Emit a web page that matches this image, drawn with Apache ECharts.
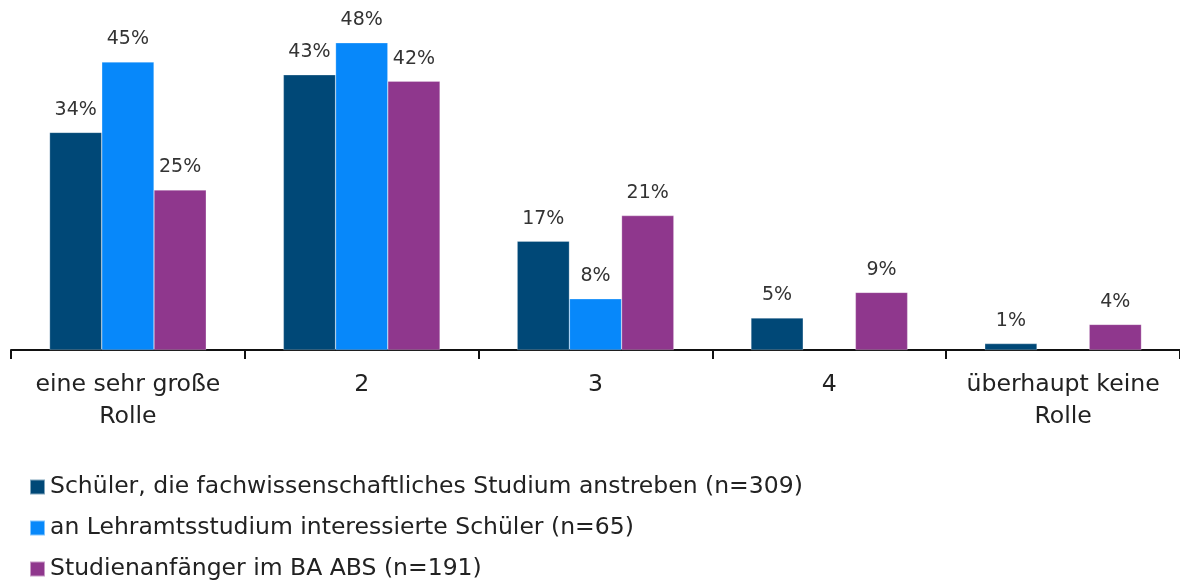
<!DOCTYPE html>
<html>
<head>
<meta charset="utf-8">
<script src="https://cdn.jsdelivr.net/npm/echarts@6/dist/echarts.min.js"></script>
<style>
  html, body { margin: 0; padding: 0; background: #fff; }
  #chart { width: 1180px; height: 581px; }
</style>
</head>
<body>
<div id="chart"></div>
<script>
// Answer scale categories
const categories = ['eine sehr große\nRolle', '2', '3', '4', 'überhaupt keine\nRolle'];

// Share of respondents per group (percent)
const seriesNames = [
  'Schüler, die fachwissenschaftliches Studium anstreben (n=309)',
  'an Lehramtsstudium interessierte Schüler (n=65)',
  'Studienanfänger im BA ABS (n=191)'
];
const schuelerFach = [34, 43, 17, 5, 1];
const schuelerLehramt = [45, 48, 8, null, null];
const studienanfaenger = [25, 42, 21, 9, 4];

const colors = ['#004877', '#0788fa', '#8f378d'];
const fontFamily = '"DejaVu Sans", "Liberation Sans", sans-serif';

const chart = echarts.init(document.getElementById('chart'));

function barSeries(name, data, color) {
  return {
    name: name,
    type: 'bar',
    data: data,
    barGap: '0%',
    barCategoryGap: '33%',
    itemStyle: { color: color, borderColor: 'rgba(255,255,255,0.5)', borderWidth: 0.5 },
    label: {
      show: true,
      position: 'top',
      distance: 13,
      formatter: p => p.value == null ? '' : p.value + '%',
      color: '#333',
      fontFamily: fontFamily,
      fontSize: 19
    }
  };
}

chart.setOption({
  animation: false,
  backgroundColor: '#fff',
  color: colors,
  grid: { left: 11, top: 30, width: 1175, height: 320, containLabel: false },
  xAxis: {
    type: 'category',
    data: categories,
    axisLine: { lineStyle: { color: '#111', width: 2 } },
    axisTick: { show: true, length: 9, lineStyle: { color: '#111', width: 2 } },
    axisLabel: {
      color: '#222',
      fontFamily: fontFamily,
      fontSize: 23.6,
      lineHeight: 32,
      margin: 19,
      interval: 0
    }
  },
  yAxis: {
    type: 'value',
    min: 0,
    max: 50,
    show: false,
    splitLine: { show: false }
  },
  legend: {
    orient: 'vertical',
    left: 29,
    top: 475,
    height: 110,
    padding: 0,
    itemWidth: 15,
    itemHeight: 15,
    itemGap: 17,
    icon: 'rect',
    data: seriesNames,
    textStyle: {
      color: '#222',
      fontFamily: fontFamily,
      fontSize: 23.5,
      lineHeight: 24
    }
  },
  series: [
    barSeries(seriesNames[0], schuelerFach, colors[0]),
    barSeries(seriesNames[1], schuelerLehramt, colors[1]),
    barSeries(seriesNames[2], studienanfaenger, colors[2])
  ]
});
</script>
</body>
</html>
